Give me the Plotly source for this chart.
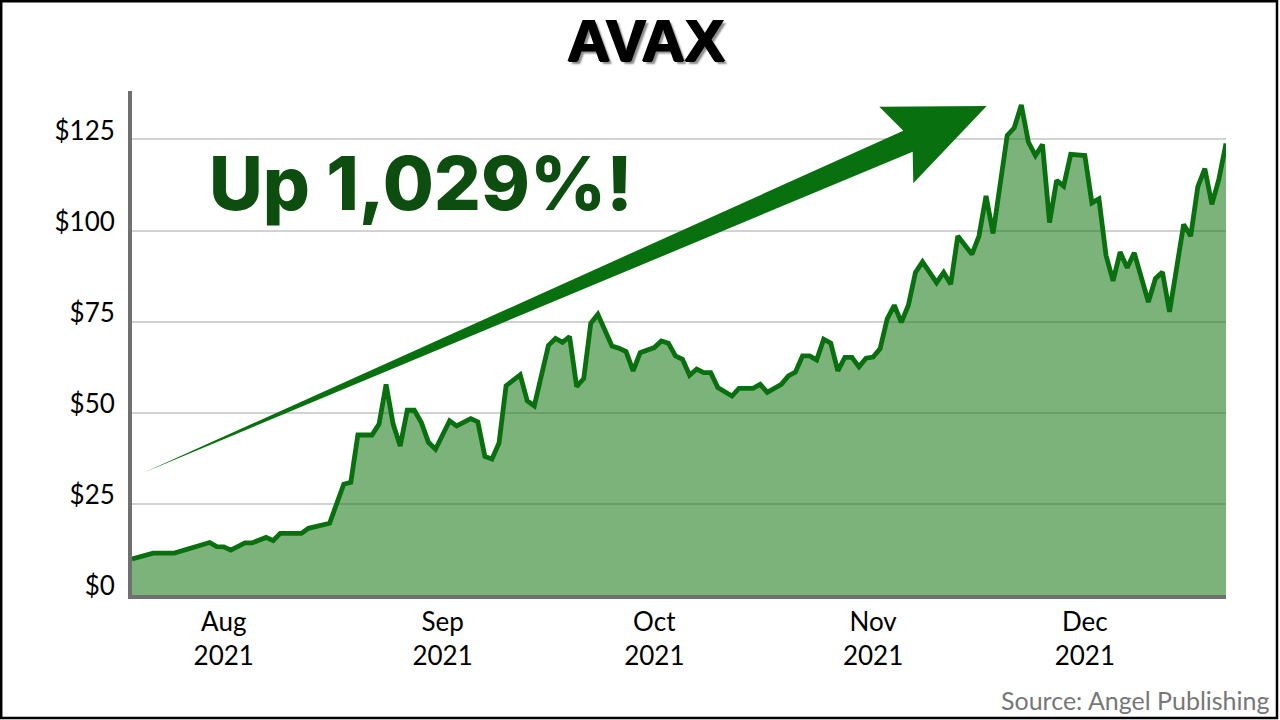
import plotly.graph_objects as go

# ---- data ----
dates = ["2021-07-19","2021-07-22","2021-07-25","2021-07-30","2021-07-31",
"2021-08-01","2021-08-02","2021-08-04","2021-08-05","2021-08-07","2021-08-08","2021-08-09","2021-08-12","2021-08-13","2021-08-16","2021-08-18","2021-08-19","2021-08-20","2021-08-22","2021-08-23","2021-08-24","2021-08-25","2021-08-26","2021-08-27","2021-08-28","2021-08-29","2021-08-30","2021-08-31",
"2021-09-02","2021-09-03","2021-09-05","2021-09-06","2021-09-07","2021-09-08","2021-09-09","2021-09-10","2021-09-12","2021-09-13","2021-09-14","2021-09-16","2021-09-17","2021-09-18","2021-09-19","2021-09-20","2021-09-21","2021-09-22","2021-09-23","2021-09-25","2021-09-26","2021-09-27","2021-09-28","2021-09-29",
"2021-10-01","2021-10-02","2021-10-03","2021-10-04","2021-10-05","2021-10-06","2021-10-07","2021-10-08","2021-10-09","2021-10-10","2021-10-12","2021-10-13","2021-10-15","2021-10-16","2021-10-17","2021-10-19","2021-10-20","2021-10-21","2021-10-22","2021-10-23","2021-10-24","2021-10-25","2021-10-26","2021-10-27","2021-10-28","2021-10-29","2021-10-30","2021-10-31",
"2021-11-01","2021-11-02","2021-11-03","2021-11-04","2021-11-05","2021-11-06","2021-11-07","2021-11-08","2021-11-10","2021-11-11","2021-11-12","2021-11-13","2021-11-15","2021-11-16","2021-11-17","2021-11-18","2021-11-20","2021-11-21","2021-11-22","2021-11-23","2021-11-24","2021-11-25","2021-11-26","2021-11-27","2021-11-28","2021-11-29",
"2021-12-01","2021-12-02","2021-12-03","2021-12-04","2021-12-05","2021-12-06","2021-12-07","2021-12-08","2021-12-10","2021-12-11","2021-12-12","2021-12-13","2021-12-15","2021-12-16","2021-12-17","2021-12-18","2021-12-19","2021-12-20","2021-12-21"]

prices = [9.9, 11.5, 11.5, 14.4, 13.3,
13.2, 12.3, 14.3, 14.3, 15.8, 14.9, 16.9, 16.9, 18.3, 19.7, 30.4, 30.9, 43.9, 43.9, 46.9, 57.8, 46.9, 40.9, 50.7, 50.7, 47.3, 41.9, 40.0,
47.8, 46.4, 48.4, 47.5, 38.0, 37.3, 41.7, 57.4, 60.4, 53.3, 51.9, 68.5, 70.4, 69.3, 70.9, 57.2, 59.4, 74.6, 77.0, 68.3, 67.7, 66.8, 61.5, 66.5,
67.9, 69.7, 69.1, 65.6, 64.7, 60.3, 62.0, 61.0, 61.0, 56.9, 54.6, 56.7, 56.7, 57.8, 55.6, 57.8, 60.1, 61.2, 65.6, 65.6, 64.5, 70.2, 69.1, 61.5, 65.2, 65.2, 62.6, 65.0,
65.3, 67.6, 75.8, 79.5, 74.8, 79.5, 88.5, 91.4, 85.7, 88.5, 85.3, 98.5, 93.5, 98.5, 109.5, 99.2, 126.1, 128.2, 134.5, 124.3, 120.6, 123.6, 102.2, 113.8, 112.2, 120.9,
120.6, 107.6, 108.7, 93.2, 86.2, 94.1, 89.8, 93.9, 80.4, 86.8, 88.6, 77.7, 101.7, 98.5, 112.0, 117.0, 107.2, 114.2, 123.9]

x_tick_vals = ["2021-08-01", "2021-09-01", "2021-10-01", "2021-11-01", "2021-12-01"]
x_tick_text = ["Aug<br>2021", "Sep<br>2021", "Oct<br>2021", "Nov<br>2021", "Dec<br>2021"]
y_tick_vals = [0, 25, 50, 75, 100, 125]
y_tick_text = ["$0", "$25", "$50", "$75", "$100", "$125"]

title_text = "AVAX"
callout_text = "Up 1,029%!"
source_text = "Source: Angel Publishing"

# ---- layout geometry (pixels) ----
W, H = 1280, 720
L, R, T, B = 132, 1226, 91, 595


def px(x):
    return (x - L) / (R - L)


def py(y):
    return (B - y) / (B - T)


fig = go.Figure()
fig.add_trace(go.Scatter(
    x=dates, y=prices, mode="lines",
    line=dict(color="#0a700f", width=4.8),
    fill="tozeroy", fillcolor="rgba(20,120,20,0.56)",
    hoverinfo="skip", showlegend=False,
))

# arrow polygon (pixel outline -> paper coords)
arrow_px = [(144, 472.5), (903.3, 130.7), (879.3, 106.7), (986.7, 106.0),
            (913.3, 183.3), (912.7, 151.7)]
path = "M " + " L ".join(f"{px(a):.5f},{py(b):.5f}" for a, b in arrow_px) + " Z"

shapes = [
    dict(type="path", xref="paper", yref="paper", path=path,
         fillcolor="#08700e", line=dict(width=0), layer="above"),
    dict(type="rect", xref="paper", yref="paper",
         x0=px(1.2), x1=px(1277), y0=py(718), y1=py(1.2),
         line=dict(color="#000000", width=2.5), fillcolor="rgba(0,0,0,0)", layer="above"),
]

annotations = [
    dict(text=title_text, x=px(646), y=py(41), xref="paper", yref="paper",
         xanchor="center", yanchor="middle", showarrow=False,
         font=dict(family="Liberation Sans", size=60, color="#000000", weight="bold",
                   shadow="1px 0px 0px #000, -1px 0px 0px #000, 0px 1px 0px #000, 3px 3px 2px #8a8a8a")),
    dict(text=callout_text, x=px(207), y=py(183), xref="paper", yref="paper",
         xanchor="left", yanchor="middle", showarrow=False,
         font=dict(family="Inter", size=74, color="#0e4d10", weight=800)),
    dict(text=source_text, x=px(1272), y=py(700), xref="paper", yref="paper",
         xanchor="right", yanchor="middle", showarrow=False,
         font=dict(family="Lato", size=25, color="#777777")),
]

fig.update_layout(
    width=W, height=H,
    margin=dict(l=L, r=W - R, t=T, b=H - B, pad=0),
    paper_bgcolor="#ffffff", plot_bgcolor="#ffffff",
    shapes=shapes, annotations=annotations,
    showlegend=False,
    xaxis=dict(
        type="date", range=[dates[0], dates[-1]],
        tickvals=x_tick_vals, ticktext=x_tick_text,
        showgrid=False, zeroline=False,
        showline=True, linecolor="#707070", linewidth=4,
        ticks="", ticklabelstandoff=1,
        tickfont=dict(family="Lato", size=26, color="#000000"),
    ),
    yaxis=dict(
        range=[0, 138.3],
        tickvals=y_tick_vals, ticktext=y_tick_text,
        showgrid=True, gridcolor="#d2d2d2", gridwidth=2,
        zeroline=False,
        showline=True, linecolor="#707070", linewidth=4,
        ticks="", ticklabelstandoff=8, ticklabelshift=-9,
        tickfont=dict(family="Lato", size=26, color="#000000"),
    ),
)

fig.write_html(
    "out.html",
    config={"displayModeBar": False, "staticPlot": True},
    post_script="document.body.style.margin='0';document.body.style.overflow='hidden';",
)
